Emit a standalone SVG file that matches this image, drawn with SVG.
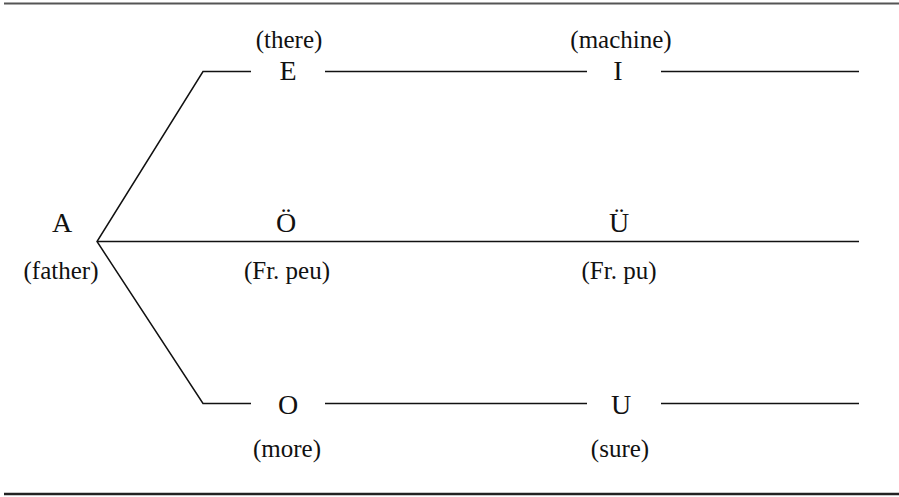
<svg xmlns="http://www.w3.org/2000/svg" width="899" height="497" viewBox="0 0 899 497">
<style>
.t{font-family:"Liberation Serif","Times New Roman",serif;font-size:28px;fill:#111;text-anchor:middle}
.l{font-family:"Liberation Serif","Times New Roman",serif;font-size:25px;fill:#111;text-anchor:middle}
.c{stroke:#111;stroke-width:1.5;fill:none}
</style>
<rect width="899" height="497" fill="#fff"/>
<line x1="4" y1="3.5" x2="899" y2="3.5" stroke="#555" stroke-width="2"/>
<line x1="4" y1="494" x2="899" y2="494" stroke="#222" stroke-width="2.5"/>
<g id="connectors">
<polyline class="c" points="251,71.5 203,71.5 97,241.5 203,403.5 251,403.5"/>
<line class="c" x1="97" y1="241.5" x2="859" y2="241.5"/>
<line class="c" x1="325" y1="71.5" x2="587" y2="71.5"/>
<line class="c" x1="661" y1="71.5" x2="859" y2="71.5"/>
<line class="c" x1="325" y1="403.5" x2="587" y2="403.5"/>
<line class="c" x1="661" y1="403.5" x2="859" y2="403.5"/>
</g>
<g id="A"><text class="t" x="62" y="232">A</text><text class="l" x="61" y="279">(father)</text></g>
<g id="E"><text class="l" x="289" y="48">(there)</text><text class="t" x="288" y="80">E</text></g>
<g id="I"><text class="l" x="621" y="48">(machine)</text><text class="t" x="618" y="80">I</text></g>
<g id="OE"><text class="t" x="286" y="232">Ö</text><text class="l" x="287" y="279">(Fr. peu)</text></g>
<g id="UE"><text class="t" x="619" y="232">Ü</text><text class="l" x="619" y="279">(Fr. pu)</text></g>
<g id="O"><text class="t" x="288" y="414">O</text><text class="l" x="287" y="457">(more)</text></g>
<g id="U"><text class="t" x="621" y="414">U</text><text class="l" x="620" y="457">(sure)</text></g>
</svg>
